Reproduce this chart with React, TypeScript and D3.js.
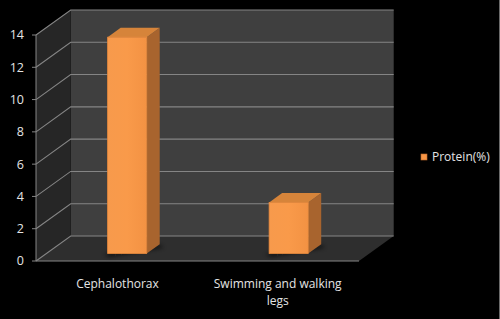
import React from 'react';
import * as d3 from 'd3';

const categories = ['Cephalothorax', 'Swimming and walking legs'];
const protein = [13.4, 3.16];
const yTicks = [0, 2, 4, 6, 8, 10, 12, 14];
const seriesName = 'Protein(%)';

const W = 500;
const H = 319;
// oblique depth of the 3D box
const DX = 34.7;
const DY = -25;

const App = () => {
  const y = d3.scaleLinear().domain([0, 14]).range([261, 35]);
  const x = d3.scaleBand().domain(categories).range([36, 359]);
  const x0 = 36;
  const x1 = 359;
  const yTop = y(14);
  const yBase = y(0);

  const pts = (arr: number[][]) => arr.map(p => p.join(',')).join(' ');

  const barW = x.bandwidth() * 0.242;
  const f1 = 0.3;
  const f2 = 0.675;

  const font = '"Open Sans", "Noto Sans", sans-serif';
  const txt = '#e4e4e4';

  return (
    <svg width={W} height={H} style={{ position: 'absolute', left: 0, top: 0, background: '#000' }}>
      <defs>
        <linearGradient id="front" x1="0" x2="1" y1="0" y2="0">
          <stop offset="0" stopColor="#f79a4c" />
          <stop offset="0.5" stopColor="#f99a4a" />
          <stop offset="1" stopColor="#f39243" />
        </linearGradient>
        <filter id="blur" x="-50%" y="-50%" width="200%" height="200%">
          <feGaussianBlur stdDeviation="2" />
        </filter>
      </defs>
      <rect x={0} y={0} width={W} height={H} fill="#000" />
      <line x1={499.5} x2={499.5} y1={0} y2={H} stroke="#6a6a6a" />

      {/* back wall */}
      <polygon
        points={pts([[x0 + DX, yTop + DY], [x1 + DX, yTop + DY], [x1 + DX, yBase + DY], [x0 + DX, yBase + DY]])}
        fill="#3f3f3f"
      />
      {/* side wall */}
      <polygon
        points={pts([[x0, yTop], [x0 + DX, yTop + DY], [x0 + DX, yBase + DY], [x0, yBase]])}
        fill="#262626"
      />
      {/* floor */}
      <polygon
        points={pts([[x0, yBase], [x1, yBase], [x1 + DX, yBase + DY], [x0 + DX, yBase + DY]])}
        fill="#2e2e2e"
      />

      {/* gridlines */}
      {yTicks.map(t => (
        <g key={t} stroke="#858585" strokeWidth={1.1} fill="none">
          <polyline points={pts([[x0, y(t)], [x0 + DX, y(t) + DY], [x1 + DX, y(t) + DY]])} />
        </g>
      ))}
      <line x1={x0} x2={x1} y1={yBase} y2={yBase} stroke="#858585" />
      <line x1={x0} x2={x0} y1={yTop} y2={yBase} stroke="#858585" />

      {/* y ticks */}
      {yTicks.map(t => (
        <g key={'t' + t}>
          <line x1={x0 - 4} x2={x0} y1={y(t)} y2={y(t)} stroke="#858585" />
          <text x={x0 - 12} y={y(t)} dy="0.35em" textAnchor="end" fontFamily={font} fontSize={12.5} fill={txt}>
            {t}
          </text>
        </g>
      ))}

      {/* bars */}
      {categories.map((c, i) => {
        const cx = (x(c) as number) + x.bandwidth() / 2;
        const bx = cx - barW / 2 + DX * f1;
        const by0 = yBase + DY * f1;
        const hgt = yBase - y(protein[i]);
        const by1 = by0 - hgt;
        const ddx = DX * (f2 - f1);
        const ddy = DY * (f2 - f1);
        return (
          <g key={c}>
            <polygon
              points={pts([[bx - 4, by0 + 1], [bx + barW + ddx, by0 + ddy + 1], [bx + barW + ddx + 4, by0 + ddy + 3], [bx + 2, by0 + 3]])}
              fill="#111"
              filter="url(#blur)"
              opacity={0.8}
            />
            <polygon
              points={pts([[bx + barW, by1], [bx + barW + ddx, by1 + ddy], [bx + barW + ddx, by0 + ddy], [bx + barW, by0]])}
              fill="#a8642e"
            />
            <polygon
              points={pts([[bx, by1], [bx + ddx, by1 + ddy], [bx + barW + ddx, by1 + ddy], [bx + barW, by1]])}
              fill="#d6843a"
            />
            <rect x={bx} y={by1} width={barW} height={hgt} fill="url(#front)" stroke="#e88a3e" strokeWidth={0.8} />
          </g>
        );
      })}

      {/* category labels */}
      <text x={117.5} y={284} dy="0.35em" textAnchor="middle" fontFamily={font} fontSize={12} fill={txt}>
        {categories[0]}
      </text>
      <text x={277.7} y={284} dy="0.35em" textAnchor="middle" fontFamily={font} fontSize={12} fill={txt}>
        {'Swimming and walking'}
      </text>
      <text x={277.7} y={300.5} dy="0.35em" textAnchor="middle" fontFamily={font} fontSize={12} fill={txt}>
        {'legs'}
      </text>

      {/* legend */}
      <rect x={421} y={154} width={6} height={6} fill="#f79646" stroke="#c06a28" strokeWidth={0.6} />
      <text x={432} y={157} dy="0.35em" fontFamily={font} fontSize={12} fill={txt}>
        {seriesName}
      </text>
    </svg>
  );
};

export default App;
